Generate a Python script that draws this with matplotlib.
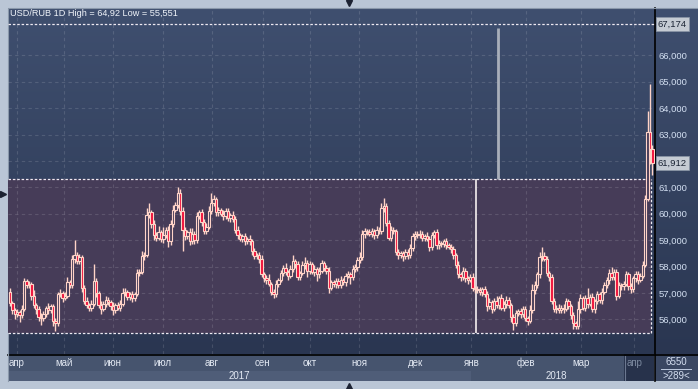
import numpy as np
import matplotlib
matplotlib.use('Agg')
import matplotlib.pyplot as plt
import matplotlib.transforms as mtransforms
from matplotlib.patches import Rectangle
from matplotlib.colors import LinearSegmentedColormap

plt.rcParams['font.family'] = ['Liberation Sans', 'DejaVu Sans']

# ---- data (daily USD/RUB) ----
title = 'USD/RUB 1D High = 64,92 Low = 55,551'
first_open = 57.05
closes = [
    56.62, 56.35, 56.20, 56.28, 56.15, 56.40, 57.45, 57.30, 57.35, 56.90,
    56.55, 56.40, 56.10, 56.05, 56.20, 56.45, 56.35, 56.50, 55.95, 55.85,
    56.95, 57.00, 56.80, 56.90, 57.40, 57.30, 58.30, 58.45, 58.20, 58.35,
    57.20, 56.70, 56.55, 56.45, 56.60, 57.45, 57.00, 56.55, 56.40, 56.60,
    56.75, 56.65, 56.50, 56.35, 56.55, 56.45, 56.60, 57.00, 57.05, 56.85,
    56.95, 56.80, 56.95, 57.75, 57.80, 58.40, 58.45, 59.95, 60.05, 59.60,
    59.20, 59.10, 59.30, 59.05, 59.20, 59.40, 58.95, 59.60, 60.15, 60.35,
    60.80, 60.10, 59.40, 59.15, 59.30, 58.95, 59.25, 59.00, 59.90, 60.05,
    59.70, 59.35, 59.50, 60.10, 60.40, 60.55, 60.05, 60.15, 60.00, 59.90,
    60.10, 59.85, 59.95, 59.80, 59.40, 59.20, 59.05, 59.15, 58.95, 59.05,
    58.95, 58.60, 58.40, 58.45, 58.30, 57.70, 57.55, 57.50, 57.35, 57.05,
    56.95, 57.35, 57.50, 57.75, 57.95, 57.80, 57.65, 57.90, 58.20, 58.10,
    57.60, 57.75, 58.05, 58.15, 57.85, 58.10, 57.80, 57.90, 57.70, 57.85,
    58.15, 57.95, 57.85, 57.20, 57.40, 57.35, 57.45, 57.30, 57.50, 57.40,
    57.65, 57.70, 57.60, 57.90, 58.00, 58.25, 58.35, 59.25, 59.35, 59.30,
    59.25, 59.35, 59.20, 59.40, 59.35, 60.20, 60.30, 59.65, 59.10, 59.40,
    59.35, 58.55, 58.45, 58.50, 58.40, 58.55, 58.45, 58.70, 59.15, 59.25,
    59.20, 59.25, 59.10, 59.15, 59.05, 58.75, 59.20, 59.30, 58.80, 58.90,
    58.85, 58.95, 58.80, 58.75, 58.65, 58.45, 58.05, 57.70, 57.60, 57.85,
    57.55, 57.50, 57.60, 57.20, 57.15, 57.10, 57.05, 57.15, 56.95, 56.50,
    56.65, 56.40, 56.70, 56.55, 56.80, 56.45, 56.60, 56.75, 56.55, 56.10,
    55.85, 56.25, 56.30, 56.20, 56.40, 56.05, 55.95, 56.35, 57.10, 57.30,
    57.70, 58.35, 58.40, 58.30, 57.75, 57.60, 56.70, 56.40, 56.45, 56.35,
    56.45, 56.40, 56.70, 56.50, 56.15, 55.85, 55.75, 56.40, 56.80, 56.45,
    56.80, 56.60, 56.85, 56.40, 56.70, 56.95, 56.75, 57.05, 57.30, 57.50,
    57.75, 57.60, 57.80, 56.90, 57.30, 57.25, 57.35, 57.70, 57.25, 57.15,
    57.55, 57.70, 57.50, 57.65, 58.05, 60.55, 63.10, 62.45, 61.912,
]
# wick lengths above / below the body, in kopecks
up_wick = [
    13, 8, 10, 12, 6, 15, 10, 8, 12, 6,
    20, 8, 10, 15, 10, 6, 18, 10, 8, 12,
    10, 15, 8, 12, 20, 10, 15, 55, 10, 12,
    8, 10, 15, 6, 12, 65, 10, 8, 15, 10,
    12, 10, 8, 15, 6, 10, 12, 20, 15, 8,
    10, 12, 8, 15, 10, 20, 10, 25, 35, 10,
    15, 10, 25, 8, 30, 10, 12, 15, 20, 10,
    20, 12, 15, 10, 8, 15, 20, 10, 15, 8,
    12, 10, 15, 20, 40, 15, 10, 12, 8, 15,
    10, 12, 8, 15, 10, 12, 8, 10, 12, 8,
    15, 10, 12, 8, 10, 15, 10, 12, 20, 8,
    10, 15, 8, 12, 10, 20, 8, 15, 25, 10,
    12, 8, 15, 20, 10, 12, 8, 15, 10, 12,
    10, 8, 12, 15, 10, 8, 12, 10, 15, 8,
    10, 12, 8, 15, 10, 12, 20, 15, 10, 8,
    12, 10, 8, 15, 10, 20, 30, 10, 12, 15,
    10, 8, 12, 10, 8, 12, 10, 15, 12, 10,
    8, 12, 10, 8, 15, 12, 10, 8, 12, 10,
    8, 10, 12, 8, 10, 12, 8, 15, 10, 12,
    8, 10, 12, 15, 8, 10, 12, 8, 10, 12,
    15, 10, 12, 20, 10, 15, 8, 12, 10, 8,
    10, 12, 8, 15, 10, 12, 8, 20, 25, 15,
    10, 20, 35, 15, 10, 8, 12, 10, 8, 12,
    10, 15, 12, 8, 10, 12, 8, 30, 15, 10,
    12, 40, 10, 15, 8, 12, 10, 15, 12, 10,
    15, 25, 10, 12, 10, 8, 12, 15, 10, 12,
    10, 15, 12, 10, 15, 15, 80, 182, 15,
]
dn_wick = [
    10, 15, 20, 12, 25, 10, 8, 12, 10, 15,
    12, 20, 15, 25, 10, 12, 15, 10, 20, 30,
    10, 12, 15, 8, 10, 12, 10, 15, 12, 10,
    15, 12, 10, 15, 12, 10, 15, 12, 20, 10,
    12, 10, 15, 20, 12, 10, 15, 8, 12, 10,
    12, 15, 10, 8, 12, 10, 15, 10, 12, 15,
    20, 15, 10, 12, 15, 10, 20, 12, 10, 8,
    12, 15, 80, 15, 10, 12, 10, 15, 12, 10,
    15, 12, 10, 8, 12, 10, 15, 12, 10, 12,
    10, 12, 15, 10, 12, 15, 10, 12, 15, 10,
    12, 15, 10, 12, 15, 10, 12, 15, 10, 12,
    15, 10, 12, 8, 10, 12, 15, 10, 12, 15,
    10, 12, 8, 15, 25, 12, 10, 15, 25, 12,
    10, 12, 15, 20, 10, 12, 15, 10, 12, 8,
    15, 10, 25, 12, 10, 15, 12, 10, 15, 12,
    10, 12, 15, 10, 12, 10, 15, 12, 10, 15,
    12, 10, 15, 12, 20, 10, 15, 12, 10, 15,
    12, 10, 15, 12, 10, 15, 12, 10, 12, 15,
    10, 12, 15, 10, 12, 15, 10, 12, 15, 10,
    12, 15, 10, 12, 15, 10, 12, 15, 10, 20,
    12, 15, 10, 12, 15, 10, 12, 15, 10, 20,
    25, 10, 12, 15, 10, 12, 15, 10, 12, 15,
    10, 12, 15, 10, 12, 15, 10, 12, 15, 10,
    12, 15, 10, 12, 15, 20, 10, 12, 15, 10,
    12, 15, 10, 12, 15, 10, 12, 15, 10, 12,
    15, 10, 12, 15, 10, 12, 15, 10, 12, 15,
    10, 12, 15, 10, 10, 5, 5, 55, 46,
]
month_labels = ['апр', 'май', 'июн', 'июл', 'авг', 'сен', 'окт',
                'ноя', 'дек', 'янв', 'фев', 'мар', 'апр']
month_pos = [2.9, 22.5, 42.9, 63.8, 84.2, 105.4, 125.0,
             145.8, 169.2, 192.5, 215.4, 238.3, 260.4]
year_labels = ['2017', '2018']
year_pos = [95.8, 228.0]
y_ticks = list(range(56, 67))
level_top = 67.174
box_lo, box_hi, box_end = 55.47, 61.30, 267.6
line_white = 194.5
line_grey = 203.6

# ---- figure ----
W, H = 698, 389
fig = plt.figure(figsize=(W / 100, H / 100), dpi=100)
fig.patch.set_facecolor('#bac6d6')


def px(x0, y0, x1, y1):
    return [x0 / W, 1 - y1 / H, (x1 - x0) / W, (y1 - y0) / H]


bg = fig.add_axes([0, 0, 1, 1])
bg.axis('off')
cmap = LinearSegmentedColormap.from_list('bg', ['#3f4f6f', '#2a3651'])
bg.imshow(np.linspace(0, 1, 256).reshape(-1, 1), cmap=cmap,
          extent=[8, 698, 354, 8], aspect='auto', zorder=0)
# date strips
bg.add_patch(Rectangle((8, 354), 646, 17, fc='#46546e', ec='none', zorder=1))
bg.add_patch(Rectangle((8, 371), 463, 10, fc='#4f5d78', ec='none', zorder=1))
bg.add_patch(Rectangle((471, 371), 153, 10, fc='#46546e', ec='none', zorder=1))
bg.add_patch(Rectangle((624, 354), 30, 27, fc='#27324b', ec='none', zorder=1))
bg.add_patch(Rectangle((655, 354), 43, 27, fc='#3a4762', ec='none', zorder=1))
bg.plot([624.5, 624.5], [356, 380], color='#6c7890', lw=0.8, zorder=2)
bg.plot([8, 698], [354.5, 354.5], color='black', lw=1.2, zorder=2)
bg.plot([654.8, 654.8], [8, 381], color='black', lw=1.2, zorder=2)
bg.plot([7.5, 7.5, 698], [381, 7.5, 7.5], color='#8a98aa', lw=0.8, zorder=2)
bg.plot([661, 691], [369, 369], color='#c0cce0', lw=0.7, zorder=2)
bg.text(676, 362, '6550', color='#d4def0', fontsize=7, ha='center', va='center')
bg.text(676, 376, '>289<', color='#d4def0', fontsize=7, ha='center', va='center')
bg.text(10, 13, title, color='#f0f4fa', fontsize=6.6, va='center', zorder=3)
bg.plot([349], [3], marker='v', color='#1c2232', ms=5, zorder=3)
bg.plot([349], [386], marker='^', color='#1c2232', ms=5, zorder=3)
bg.plot([3], [194], marker='>', color='#1c2232', ms=5, zorder=3)
bg.set_xlim(0, W)
bg.set_ylim(H, 0)

ax = fig.add_axes(px(8, 8, 654.5, 354))
ax.set_facecolor('none')
for s in ax.spines.values():
    s.set_visible(False)

closes = np.array(closes)
opens = np.r_[first_open, closes[:-1]]
highs = np.maximum(opens, closes) + np.array(up_wick) / 100
lows = np.minimum(opens, closes) - np.array(dn_wick) / 100
x = np.arange(len(closes))
xmin, xmax = -0.8, 268.9

pink = '#ffd4c8'
band = '#463c58'
ax.add_patch(Rectangle((xmin, box_lo), box_end - xmin, box_hi - box_lo,
                       fc=band, ec='none', zorder=1))
ax.hlines([box_lo, box_hi], xmin, box_end, colors='#eeeaf2', lw=0.9,
          linestyles=(0, (2, 1.5)), zorder=2)
ax.vlines(box_end, box_lo, box_hi, colors='#eeeaf2', lw=0.9,
          linestyles=(0, (2, 1.5)), zorder=2)
ax.axhline(level_top, color='#eeeaf2', lw=0.9, ls=(0, (2, 1.5)), zorder=2)
ax.vlines(line_white, box_lo, box_hi, colors='#f6f0f0', lw=1.2, zorder=2)
ax.vlines(line_grey, box_hi, 67.03, colors='#a9afba', lw=2, zorder=2)

ax.vlines(x, lows, highs, colors=pink, lw=1.0, zorder=3)
body = closes - opens
body = np.where(np.abs(body) < 0.03, 0.03, body)
up = closes >= opens
ax.bar(x[up], body[up], bottom=opens[up], width=1.0, color=band,
       edgecolor=pink, linewidth=0.8, zorder=4)
ax.bar(x[~up], body[~up], bottom=opens[~up], width=1.0, color='#f0103a',
       edgecolor=pink, linewidth=0.8, zorder=4)

ax.set_xlim(xmin, xmax)
ax.set_ylim(54.69, 67.79)
ax.set_xticks(month_pos)
ax.set_yticks(y_ticks)
ax.set_yticklabels([f'{v},000' for v in y_ticks])
ax.yaxis.tick_right()
ax.tick_params(axis='x', length=0, labelbottom=False)
ax.tick_params(axis='y', length=0, pad=3, labelsize=6.8, labelcolor='#d4e0f2')
ax.grid(True, color='white', alpha=0.13, lw=0.8, ls=(0, (3, 3)), zorder=0)

ann = dict(xycoords=('axes fraction', 'data'), xytext=(2.5, 0),
           textcoords='offset points', va='center', ha='left', fontsize=6.8,
           color='#1a2333', annotation_clip=False,
           bbox=dict(boxstyle='square,pad=0.25', fc='#c5cbd3', ec='#8a96a6', lw=0.5))
ax.annotate(f'{level_top:.3f}'.replace('.', ','), xy=(1, level_top), **ann)
ax.annotate(f'{closes[-1]:.3f}'.replace('.', ','), xy=(1, closes[-1]), **ann)

tr = mtransforms.blended_transform_factory(ax.transData, ax.transAxes)
for i, (p, lbl) in enumerate(zip(month_pos, month_labels)):
    col = '#7d8aa0' if i == len(month_labels) - 1 else '#e2e8f2'
    ax.text(p, -0.026, lbl, transform=tr, ha='center', va='center',
            fontsize=7, color=col, clip_on=False)
for p, lbl in zip(year_pos, year_labels):
    ax.text(p, -0.064, lbl, transform=tr, ha='center', va='center',
            fontsize=7, color='#e2e8f2', clip_on=False)

fig.savefig('out.png', dpi=100)
